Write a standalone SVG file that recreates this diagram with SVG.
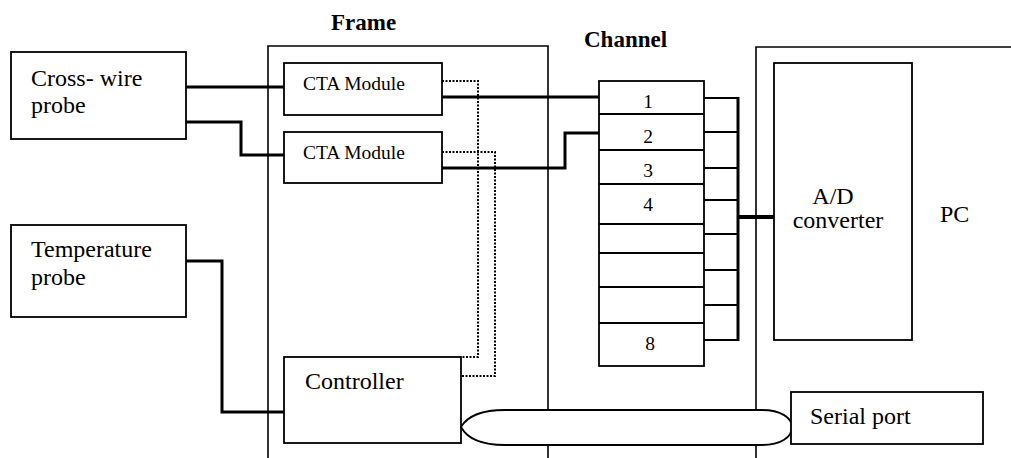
<svg xmlns="http://www.w3.org/2000/svg" width="1011" height="458" viewBox="0 0 1011 458">
<style>
.box{fill:#fff;stroke:#000;stroke-width:1.8}
.frame{fill:none;stroke:#000;stroke-width:1.6}
.t{font-family:"Liberation Serif","Times New Roman",serif;font-size:24px;fill:#000}
.s{font-family:"Liberation Serif","Times New Roman",serif;font-size:19.5px;fill:#000}
.b{font-family:"Liberation Serif","Times New Roman",serif;font-size:23px;font-weight:bold;fill:#000}
.w{fill:none;stroke:#000;stroke-width:3}
.thin{fill:none;stroke:#000;stroke-width:1.8}
.dot{fill:none;stroke:#000;stroke-width:2;stroke-dasharray:2 1.5}
</style>
<rect width="1011" height="458" fill="#fff"/>
<g id="frame">
<path class="frame" d="M268 458 V46 H548 V458"/>
<text class="b" x="331" y="30">Frame</text>
</g>
<g id="pc">
<path class="frame" d="M756 458 V47 H1011"/>
<text class="t" x="940" y="222">PC</text>
</g>
<text class="b" x="584" y="47">Channel</text>
<g id="connectors">
<path class="w" d="M186 87 H284"/>
<path class="w" d="M186 122 H241 V155 H284"/>
<path class="w" d="M186 261 H222 V412 H284"/>
<path class="w" d="M442 97 H599"/>
<path class="w" d="M442 168 H565 V133 H599"/>
<path class="dot" d="M442 81 H478 V357 H461"/>
<path class="dot" d="M442 152 H495 V376 H461"/>
<path class="thin" d="M704 98 H738 M704 132 H738 M704 168 H738 M704 200 H738 M704 234 H738 M704 270 H738 M704 305 H738 M704 340 H738"/>
<path class="w" d="M738 97 V341"/>
<path fill="none" stroke="#000" stroke-width="4" d="M738 217 H774"/>
</g>
<g id="cross-wire-probe">
<rect class="box" x="11" y="52" width="175" height="87"/>
<text class="t" x="31" y="86">Cross- wire</text>
<text class="t" x="31" y="113">probe</text>
</g>
<g id="temperature-probe">
<rect class="box" x="11" y="225" width="175" height="92"/>
<text class="t" x="31" y="257">Temperature</text>
<text class="t" x="31" y="285">probe</text>
</g>
<g id="cta-module-1">
<rect class="box" x="284" y="63" width="158" height="52"/>
<text class="s" x="303" y="90">CTA Module</text>
</g>
<g id="cta-module-2">
<rect class="box" x="284" y="132" width="158" height="51"/>
<text class="s" x="303" y="159">CTA Module</text>
</g>
<g id="controller">
<rect class="box" x="284" y="357" width="177" height="86"/>
<text class="t" x="305" y="389">Controller</text>
</g>
<g id="channel">
<rect class="box" x="599" y="81" width="105" height="285"/>
<path class="thin" d="M599 114 H704 M599 150 H704 M599 184 H704 M599 224 H704 M599 253 H704 M599 287 H704 M599 323 H704"/>
<text class="s" x="648" y="108" text-anchor="middle">1</text>
<text class="s" x="648" y="143" text-anchor="middle">2</text>
<text class="s" x="648" y="177" text-anchor="middle">3</text>
<text class="s" x="648" y="211" text-anchor="middle">4</text>
<text class="s" x="650" y="350" text-anchor="middle">8</text>
</g>
<g id="ad-converter">
<rect class="box" x="774" y="63" width="138" height="277"/>
<text class="t" x="833" y="204" text-anchor="middle">A/D</text>
<text class="t" x="838" y="228" text-anchor="middle">converter</text>
</g>
<g id="bus">
<path class="box" d="M461 427 C468 415 485 410 505 410 H762 C781 410 792 418 792 427 C792 437 781 445 762 445 H505 C485 445 468 440 461 427 Z"/>
</g>
<g id="serial-port">
<rect class="box" x="791" y="392" width="192" height="52"/>
<text class="t" x="810" y="424">Serial port</text>
</g>
</svg>
